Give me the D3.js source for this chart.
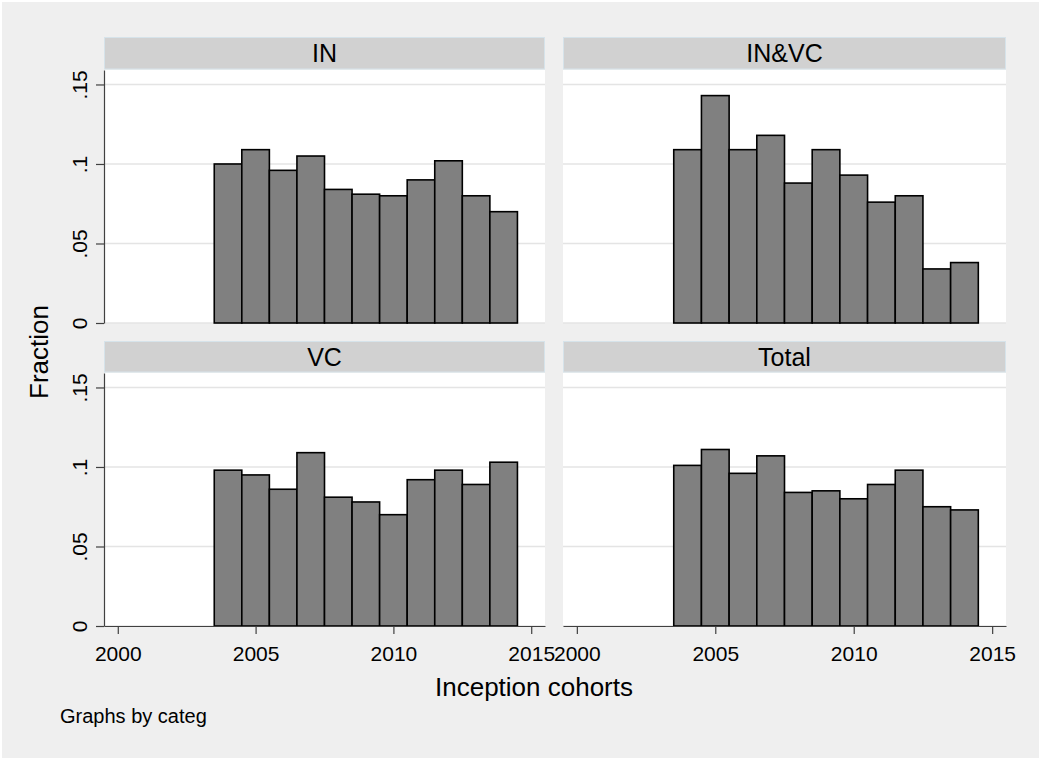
<!DOCTYPE html>
<html>
<head>
<meta charset="utf-8">
<script src="https://cdn.jsdelivr.net/npm/d3@7"></script>
<style>
  html, body { margin: 0; padding: 0; background: #ffffff; }
  svg { display: block; }
  text { font-family: "Liberation Sans", Arial, sans-serif; fill: #000; }
</style>
</head>
<body>
<svg id="chart" width="1041" height="760"></svg>
<script>
// Inception cohorts (bin centres) and fraction of funds per cohort, by category
const years = [2004, 2005, 2006, 2007, 2008, 2009, 2010, 2011, 2012, 2013, 2014];
const categories = ["IN", "IN&VC", "VC", "Total"];
const fracIN    = [0.100, 0.109, 0.096, 0.105, 0.084, 0.081, 0.080, 0.090, 0.102, 0.080, 0.070];
const fracINVC  = [0.109, 0.143, 0.109, 0.118, 0.088, 0.109, 0.093, 0.076, 0.080, 0.034, 0.038];
const fracVC    = [0.098, 0.095, 0.086, 0.109, 0.081, 0.078, 0.070, 0.092, 0.098, 0.089, 0.103];
const fracTotal = [0.101, 0.111, 0.096, 0.107, 0.084, 0.085, 0.080, 0.089, 0.098, 0.075, 0.073];
const yTicks = [0, 0.05, 0.1, 0.15];
const yTickLabels = ["0", ".05", ".1", ".15"];
const xTicks = [2000, 2005, 2010, 2015];
const xTitle = "Inception cohorts";
const yTitle = "Fraction";
const note = "Graphs by categ";

const seriesList = [fracIN, fracINVC, fracVC, fracTotal];

const svg = d3.select("#chart");
const W = 1041, H = 760;

// graph region
svg.append("rect").attr("x", 2).attr("y", 2).attr("width", W - 4).attr("height", H - 4)
  .attr("fill", "#efefef");

// panel layout: two columns, two rows
const cols = [[104, 545], [563, 1006]];
const rows = [
  { stripTop: 37.5, top: 70, bottom: 323 },
  { stripTop: 341.5, top: 373, bottom: 626 }
];

const fontTick = 21, fontStrip = 25, fontTitle = 26;

categories.forEach((cat, i) => {
  const ci = i % 2, ri = Math.floor(i / 2);
  const [x0, x1] = cols[ci];
  const r = rows[ri];
  const vals = seriesList[i];
  const data = years.map((yr, k) => ({ year: yr, value: vals[k] }));

  const x = d3.scaleLinear().domain([1999.5, 2015.5]).range([x0, x1]);
  const y = d3.scaleLinear().domain([0, 0.1591]).range([r.bottom, r.top]);

  const g = svg.append("g");

  // strip with category name
  g.append("rect")
    .attr("x", x0 + 0.5).attr("y", r.stripTop)
    .attr("width", x1 - x0 - 1).attr("height", r.top - r.stripTop - 1)
    .attr("fill", "#d1d1d1").attr("stroke", "#d6e3ea").attr("stroke-width", 1);
  g.append("text")
    .attr("x", (x0 + x1) / 2).attr("y", r.stripTop + 24)
    .attr("text-anchor", "middle").attr("font-size", fontStrip)
    .text(cat);

  // plot region
  g.append("rect")
    .attr("x", x0).attr("y", r.top)
    .attr("width", x1 - x0).attr("height", r.bottom - r.top)
    .attr("fill", "#ffffff");

  // horizontal grid lines
  g.append("g").selectAll("line").data(yTicks).join("line")
    .attr("x1", x0).attr("x2", x1)
    .attr("y1", d => y(d)).attr("y2", d => y(d))
    .attr("stroke", "#e4e4e4").attr("stroke-width", 1.5);

  // histogram bars
  g.append("g").selectAll("rect").data(data).join("rect")
    .attr("x", d => x(d.year - 0.5))
    .attr("y", d => y(d.value))
    .attr("width", d => x(d.year + 0.5) - x(d.year - 0.5))
    .attr("height", d => y(0) - y(d.value))
    .attr("fill", "#808080")
    .attr("stroke", "#000000")
    .attr("stroke-width", 1.6);

  // y axis on the left column
  if (ci === 0) {
    const ya = g.append("g").attr("transform", `translate(${x0},0)`)
      .call(d3.axisLeft(y).tickValues(yTicks)
        .tickFormat((d, k) => yTickLabels[k])
        .tickSize(8).tickSizeOuter(0));
    ya.select(".domain").attr("stroke", "#404040").attr("stroke-width", 1.2);
    ya.selectAll(".tick line").attr("stroke", "#404040").attr("stroke-width", 1.2);
    ya.selectAll(".tick text")
      .attr("x", null).attr("dy", null)
      .attr("transform", "translate(-17,0) rotate(-90)")
      .attr("text-anchor", "middle")
      .attr("font-size", fontTick)
      .attr("font-family", "Liberation Sans, Arial, sans-serif")
      .attr("fill", "#000");
  }

  // x axis on the bottom row
  if (ri === 1) {
    const xa = g.append("g").attr("transform", `translate(0,${r.bottom})`)
      .call(d3.axisBottom(x).tickValues(xTicks)
        .tickFormat(d3.format("d"))
        .tickSize(8).tickPadding(12).tickSizeOuter(0));
    xa.select(".domain").attr("stroke", "#404040").attr("stroke-width", 1.2);
    xa.selectAll(".tick line").attr("stroke", "#404040").attr("stroke-width", 1.2);
    xa.selectAll(".tick text")
      .attr("font-size", fontTick)
      .attr("font-family", "Liberation Sans, Arial, sans-serif")
      .attr("fill", "#000");
  }
});

// axis titles
svg.append("text")
  .attr("x", 534).attr("y", 696)
  .attr("text-anchor", "middle").attr("font-size", fontTitle)
  .text(xTitle);
svg.append("text")
  .attr("transform", "translate(48,352) rotate(-90)")
  .attr("text-anchor", "middle").attr("font-size", fontTitle)
  .text(yTitle);

// note
svg.append("text")
  .attr("x", 60).attr("y", 723)
  .attr("font-size", 20)
  .text(note);
</script>
</body>
</html>
